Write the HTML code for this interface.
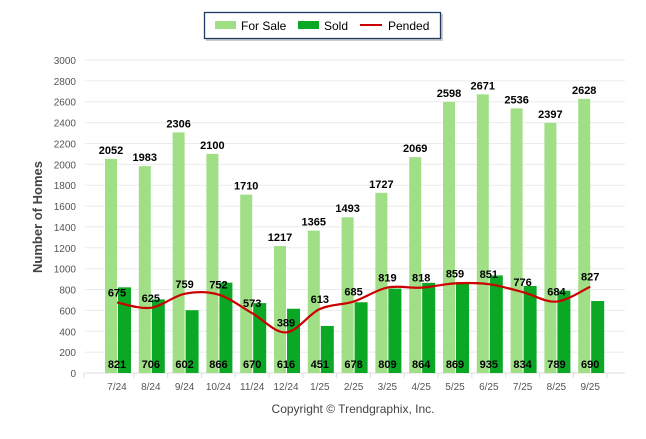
<!DOCTYPE html>
<html><head><meta charset="utf-8"><style>
body{margin:0;background:#fff;width:646px;height:434px;overflow:hidden;font-family:"Liberation Sans",sans-serif}
</style></head><body>
<svg id="chart" width="646" height="434" xmlns="http://www.w3.org/2000/svg" font-family="Liberation Sans, sans-serif">
<g>
<rect x="206" y="14" width="237" height="27" fill="#999" opacity="0.5"/>
<rect x="204.5" y="12.5" width="236" height="26" fill="#fff" stroke="#1f3864" stroke-width="1.3"/>
<rect x="215" y="21" width="21" height="8" fill="#a0df86"/>
<text x="241" y="30" font-size="12">For Sale</text>
<rect x="298" y="21" width="21" height="8" fill="#0aa824"/>
<text x="324" y="30" font-size="12">Sold</text>
<line x1="360" y1="25" x2="382" y2="25" stroke="#cc0000" stroke-width="2"/>
<text x="388" y="30" font-size="12">Pended</text>
</g>
<g id="grid"></g><g id="bars"></g><g id="line"></g><g id="labels"></g>
<text transform="translate(42,217) rotate(-90)" text-anchor="middle" font-size="13" font-weight="bold" fill="#444">Number of Homes</text>
<text x="353" y="413" text-anchor="middle" font-size="12" fill="#444">Copyright © Trendgraphix, Inc.</text>
</svg>
<script>
const categories=["7/24","8/24","9/24","10/24","11/24","12/24","1/25","2/25","3/25","4/25","5/25","6/25","7/25","8/25","9/25"];
const forSale=[2052,1983,2306,2100,1710,1217,1365,1493,1727,2069,2598,2671,2536,2397,2628];
const sold=[821,706,602,866,670,616,451,678,809,864,869,935,834,789,690];
const pended=[675,625,759,752,573,389,613,685,819,818,859,851,776,684,827];
const yTicks=[0,200,400,600,800,1000,1200,1400,1600,1800,2000,2200,2400,2600,2800,3000];
const NS="http://www.w3.org/2000/svg";
const y=v=>373-v*(313/3000);
const x=i=>117+i*33.8;
function mk(p,tag,a,txt){const e=document.createElementNS(NS,tag);for(const k in a)e.setAttribute(k,a[k]);if(txt!=null)e.textContent=txt;document.getElementById(p).appendChild(e);return e;}
yTicks.forEach(t=>{
 const l=mk('grid','line',{x1:85,x2:625,y1:y(t),y2:y(t),stroke:t===0?'#ddd':'#ebebeb','stroke-width':1});
 
 
 const tx=mk('grid','text',{x:76,y:y(t)+4,'text-anchor':'end','font-size':10,fill:'#555'},t);
 
 
});
const ax=mk('grid','line',{x1:84,x2:84,y1:y(0),y2:y(0)+5,stroke:'#ddd'});


categories.forEach((c,i)=>{
 const t=mk('grid','line',{x1:x(i)+16.9,x2:x(i)+16.9,y1:y(0),y2:y(0)+5,stroke:'#ddd'});
 
 
 const tl=mk('labels','text',{x:x(i),y:390,'text-anchor':'middle','font-size':10,fill:'#555'},c);
 
 
 const b1=mk('bars','rect',{x:x(i)-12,y:y(forSale[i]),width:12,height:y(0)-y(forSale[i]),fill:'#a0df86'});
 
 
 const b2=mk('bars','rect',{x:x(i)+1,y:y(sold[i]),width:13,height:y(0)-y(sold[i]),fill:'#0aa824'});
 
 
 const l1=mk('labels','text',{x:x(i)-6,y:y(forSale[i])-5,'text-anchor':'middle','font-size':11,'font-weight':'bold'},forSale[i]);
 
 
 const l2=mk('labels','text',{x:x(i),y:368,'text-anchor':'middle','font-size':11,'font-weight':'bold'},sold[i]);
 
 
 const l3=mk('labels','text',{x:x(i),y:y(pended[i])-6,'text-anchor':'middle','font-size':11,'font-weight':'bold'},pended[i]);
 
 
});
const pts=pended.map((v,i)=>[x(i),y(v)]);
let d='M'+pts[0][0]+','+pts[0][1];
for(let i=0;i<pts.length-1;i++){
 const p0=pts[Math.max(0,i-1)],p1=pts[i],p2=pts[i+1],p3=pts[Math.min(pts.length-1,i+2)];
 const c1=[p1[0]+(p2[0]-p0[0])/6,p1[1]+(p2[1]-p0[1])/6],c2=[p2[0]-(p3[0]-p1[0])/6,p2[1]-(p3[1]-p1[1])/6];
 d+=` C${c1[0]},${c1[1]} ${c2[0]},${c2[1]} ${p2[0]},${p2[1]}`;
}
const pl=mk('line','path',{d:d,fill:'none',stroke:'#cc0000','stroke-width':2.2});


</script>
</body></html>
